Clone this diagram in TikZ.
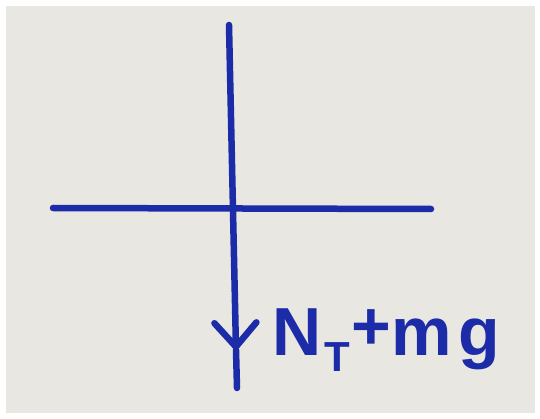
\documentclass[tikz,border=0pt]{standalone}
\usepackage{fontspec}
\setmainfont{Liberation Sans}
\usetikzlibrary{arrows.meta}
\definecolor{ink}{RGB}{28,44,168}
\definecolor{paper}{RGB}{233,231,226}
\begin{document}
\begin{tikzpicture}[x=1pt,y=-1pt,
  pen/.style={draw=ink,line width=6.5pt,line cap=round},
  lbl/.style={text=ink,inner sep=0pt,anchor=base west,font=\bfseries\fontsize{68}{68}\selectfont}]
\useasboundingbox (0,0) rectangle (540,419);
\fill[white] (0,0) rectangle (540,419);
\fill[paper] (6,6) rectangle (535,413);
\coordinate (top) at (229,25);
\coordinate (tip) at (236,350);
\coordinate (bot) at (237,388);
\coordinate (hl) at (53,208);
\coordinate (hr) at (431,209);
\draw[pen] (hl) -- (hr);
\draw[pen,-{Straight Barb[length=24pt,width=42pt,line width=6.5pt,round]}] (top) -- (tip);
\draw[pen] (tip) -- (bot);
\node[lbl] (label) at (272,355) {N\hspace{3pt}\raisebox{-16pt}{\fontsize{42}{42}\selectfont T}\hspace{2pt}\raisebox{6pt}{+}m\hspace{6pt}g};
\end{tikzpicture}
\end{document}
